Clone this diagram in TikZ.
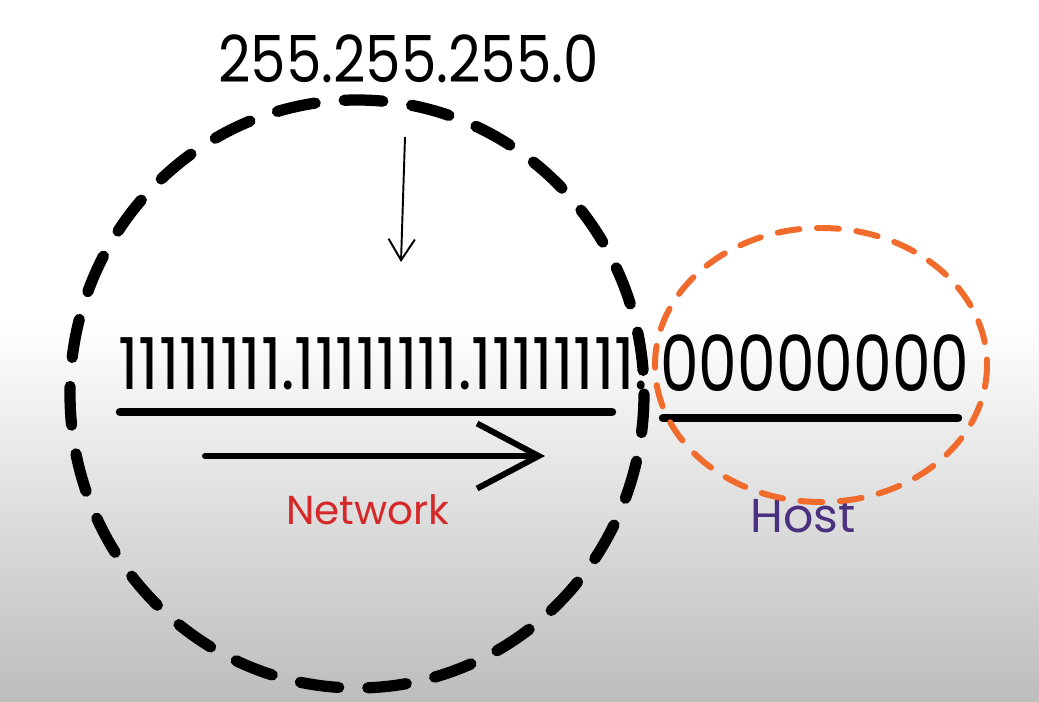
\documentclass[tikz,border=0pt]{standalone}
\usepackage{fontspec}
\setmainfont{Poppins}
\usepackage{graphicx}
\usetikzlibrary{arrows.meta}
\definecolor{maskorange}{RGB}{241,107,45}
\definecolor{netred}{RGB}{214,40,40}
\definecolor{hostpurple}{RGB}{76,48,128}
\tikzstyle{bits} = [inner sep=0pt, anchor=south west]
\tikzstyle{underline} = [line width=4.8pt, line cap=round]
\tikzstyle{thinarrow} = [line width=1.1pt, -{Straight Barb[length=12pt,width=15pt]}]
\tikzstyle{bigarrow} = [line width=3.4pt, line cap=round, -{Straight Barb[length=35pt,width=37pt]}]

\begin{document}
\begin{tikzpicture}[x=0.02cm, y=-0.02cm]
\useasboundingbox (0,0) rectangle (1039,702);
% background
\fill[white] (0,0) rectangle (1039,702);
\shade[top color=white, bottom color=black!26] (0,320) rectangle (1039,702);

% subnet mask
\node[bits] (mask) at (218,83) {\resizebox{216.6pt}{27.2pt}{255.255.255.0}};
\coordinate (masktail) at (405,137);
\coordinate (masktip) at (401,262);
\draw[thinarrow] (masktail) -- (masktip);

% binary form
\node[bits] (netbits) at (118,390) {\resizebox{301.6pt}{29.5pt}{11111111.11111111.11111111.}};
\node[bits] (hostbits) at (660,392) {\resizebox{175.8pt}{32.3pt}{00000000}};
\draw[underline] (120,412) -- (612,412);
\draw[underline] (663,418) -- (958,418);

% network part
\coordinate (netstart) at (205,456);
\coordinate (netend) at (545,456);
\draw[bigarrow] (netstart) -- (netend);
\node[text=netred, font=\fontsize{23}{28}\selectfont] (netlabel) at (368,510) {Network};
\draw[line width=6.4pt, line cap=round, dash pattern=on 22pt off 16.6pt] (357,394) ellipse [x radius=287, y radius=294];

% host part
\node[text=hostpurple, font=\fontsize{27}{32}\selectfont] (hostlabel) at (803,516) {Host};
\draw[maskorange, line width=3.4pt, line cap=round, dash pattern=on 12.5pt off 10pt] (821,365) ellipse [x radius=166, y radius=137];
\end{tikzpicture}
\end{document}
